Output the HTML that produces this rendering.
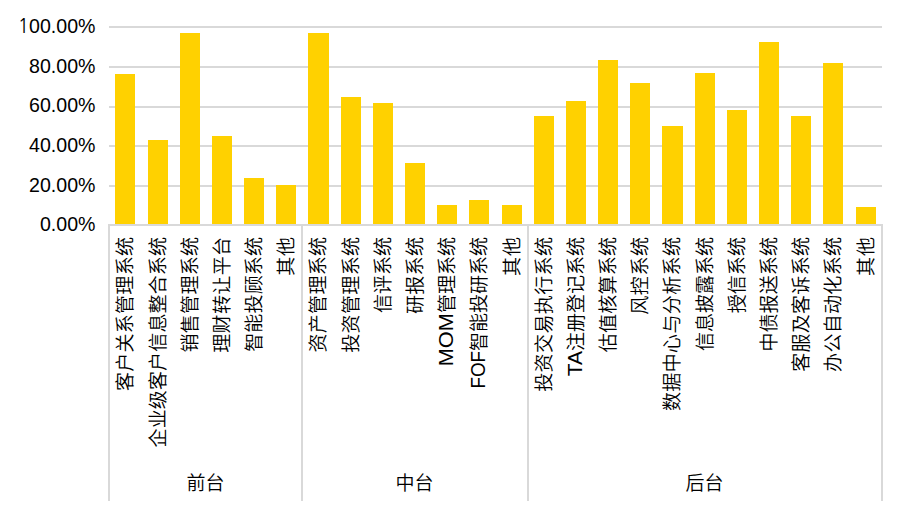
<!DOCTYPE html>
<html><head><meta charset="utf-8"><style>
html,body{margin:0;padding:0;background:#fff;}
body{width:907px;height:513px;overflow:hidden;}
svg{display:block;}
.y{font-family:"Liberation Sans",Arial,sans-serif;font-size:19.6px;fill:#000;}
.one{font-family:"NanumGothic",sans-serif;font-size:18.8px;}
.c{font-family:"Liberation Sans","Noto Sans CJK SC",sans-serif;font-size:19px;font-weight:350;fill:#000;dominant-baseline:central;}
.g{font-family:"Liberation Sans","Noto Sans CJK SC",sans-serif;font-size:19px;font-weight:350;fill:#000;}
</style></head><body>
<svg width="907" height="513" viewBox="0 0 907 513" shape-rendering="crispEdges">
<rect x="109" y="26" width="773" height="2" fill="#D9D9D9"/>
<rect x="109" y="66" width="773" height="2" fill="#D9D9D9"/>
<rect x="109" y="106" width="773" height="2" fill="#D9D9D9"/>
<rect x="109" y="145" width="773" height="2" fill="#D9D9D9"/>
<rect x="109" y="185" width="773" height="2" fill="#D9D9D9"/>
<rect x="108" y="224" width="775" height="2" fill="#D9D9D9"/>
<rect x="108" y="224" width="2" height="277" fill="#D9D9D9"/>
<rect x="301" y="224" width="2" height="277" fill="#D9D9D9"/>
<rect x="527" y="224" width="2" height="277" fill="#D9D9D9"/>
<rect x="881" y="224" width="2" height="277" fill="#D9D9D9"/>
<rect x="115" y="74" width="20" height="150" fill="#FFD100"/>
<rect x="148" y="140" width="20" height="84" fill="#FFD100"/>
<rect x="180" y="33" width="20" height="191" fill="#FFD100"/>
<rect x="212" y="136" width="20" height="88" fill="#FFD100"/>
<rect x="244" y="178" width="20" height="46" fill="#FFD100"/>
<rect x="276" y="185" width="20" height="39" fill="#FFD100"/>
<rect x="308" y="33" width="21" height="191" fill="#FFD100"/>
<rect x="341" y="97" width="20" height="127" fill="#FFD100"/>
<rect x="373" y="103" width="20" height="121" fill="#FFD100"/>
<rect x="405" y="163" width="20" height="61" fill="#FFD100"/>
<rect x="437" y="205" width="20" height="19" fill="#FFD100"/>
<rect x="469" y="200" width="20" height="24" fill="#FFD100"/>
<rect x="502" y="205" width="20" height="19" fill="#FFD100"/>
<rect x="534" y="116" width="20" height="108" fill="#FFD100"/>
<rect x="566" y="101" width="20" height="123" fill="#FFD100"/>
<rect x="598" y="60" width="20" height="164" fill="#FFD100"/>
<rect x="630" y="83" width="20" height="141" fill="#FFD100"/>
<rect x="662" y="126" width="21" height="98" fill="#FFD100"/>
<rect x="695" y="73" width="20" height="151" fill="#FFD100"/>
<rect x="727" y="110" width="20" height="114" fill="#FFD100"/>
<rect x="759" y="42" width="20" height="182" fill="#FFD100"/>
<rect x="791" y="116" width="20" height="108" fill="#FFD100"/>
<rect x="823" y="63" width="20" height="161" fill="#FFD100"/>
<rect x="856" y="207" width="20" height="17" fill="#FFD100"/>
<text class="y" x="95.5" y="33" text-anchor="end"><tspan class="one">1</tspan>00.00%</text>
<text class="y" x="95.5" y="73" text-anchor="end">80.00%</text>
<text class="y" x="95.5" y="112" text-anchor="end">60.00%</text>
<text class="y" x="95.5" y="152" text-anchor="end">40.00%</text>
<text class="y" x="95.5" y="192" text-anchor="end">20.00%</text>
<text class="y" x="95.5" y="231" text-anchor="end">0.00%</text>
<text class="c" x="125.0" y="237.0" textLength="154.1" lengthAdjust="spacing" text-anchor="end" transform="rotate(-90 125.0 237.0)">客户关系管理系统</text>
<text class="c" x="158.0" y="237.0" textLength="210.5" lengthAdjust="spacing" text-anchor="end" transform="rotate(-90 158.0 237.0)">企业级客户信息整合系统</text>
<text class="c" x="190.0" y="237.0" textLength="115.5" lengthAdjust="spacing" text-anchor="end" transform="rotate(-90 190.0 237.0)">销售管理系统</text>
<text class="c" x="222.0" y="237.0" textLength="115.7" lengthAdjust="spacing" text-anchor="end" transform="rotate(-90 222.0 237.0)">理财转让平台</text>
<text class="c" x="254.0" y="237.0" textLength="114.8" lengthAdjust="spacing" text-anchor="end" transform="rotate(-90 254.0 237.0)">智能投顾系统</text>
<text class="c" x="286.0" y="237.0" textLength="38.8" lengthAdjust="spacing" text-anchor="end" transform="rotate(-90 286.0 237.0)">其他</text>
<text class="c" x="318.5" y="237.0" textLength="115.5" lengthAdjust="spacing" text-anchor="end" transform="rotate(-90 318.5 237.0)">资产管理系统</text>
<text class="c" x="351.0" y="237.0" textLength="115.7" lengthAdjust="spacing" text-anchor="end" transform="rotate(-90 351.0 237.0)">投资管理系统</text>
<text class="c" x="383.0" y="237.0" textLength="76.0" lengthAdjust="spacing" text-anchor="end" transform="rotate(-90 383.0 237.0)">信评系统</text>
<text class="c" x="415.0" y="237.0" textLength="77.1" lengthAdjust="spacing" text-anchor="end" transform="rotate(-90 415.0 237.0)">研报系统</text>
<text class="c" x="447.0" y="237.0" text-anchor="end" transform="rotate(-90 447.0 237.0)"><tspan font-size="20" baseline-shift="1" textLength="53.3" lengthAdjust="spacingAndGlyphs">MOM</tspan>管理系统</text>
<text class="c" x="479.0" y="237.0" text-anchor="end" transform="rotate(-90 479.0 237.0)"><tspan font-size="20" baseline-shift="1" textLength="37.5" lengthAdjust="spacingAndGlyphs">FOF</tspan>智能投研系统</text>
<text class="c" x="512.0" y="237.0" textLength="38.9" lengthAdjust="spacing" text-anchor="end" transform="rotate(-90 512.0 237.0)">其他</text>
<text class="c" x="544.0" y="237.0" textLength="154.8" lengthAdjust="spacing" text-anchor="end" transform="rotate(-90 544.0 237.0)">投资交易执行系统</text>
<text class="c" x="576.0" y="237.0" text-anchor="end" transform="rotate(-90 576.0 237.0)"><tspan font-size="20" baseline-shift="1" textLength="25.3" lengthAdjust="spacingAndGlyphs">TA</tspan>注册登记系统</text>
<text class="c" x="608.0" y="237.0" textLength="115.3" lengthAdjust="spacing" text-anchor="end" transform="rotate(-90 608.0 237.0)">估值核算系统</text>
<text class="c" x="640.0" y="237.0" textLength="77.7" lengthAdjust="spacing" text-anchor="end" transform="rotate(-90 640.0 237.0)">风控系统</text>
<text class="c" x="672.5" y="237.0" textLength="174.0" lengthAdjust="spacing" text-anchor="end" transform="rotate(-90 672.5 237.0)">数据中心与分析系统</text>
<text class="c" x="705.0" y="237.0" textLength="113.9" lengthAdjust="spacing" text-anchor="end" transform="rotate(-90 705.0 237.0)">信息披露系统</text>
<text class="c" x="737.0" y="237.0" textLength="76.3" lengthAdjust="spacing" text-anchor="end" transform="rotate(-90 737.0 237.0)">授信系统</text>
<text class="c" x="769.0" y="237.0" textLength="114.6" lengthAdjust="spacing" text-anchor="end" transform="rotate(-90 769.0 237.0)">中债报送系统</text>
<text class="c" x="801.0" y="237.0" textLength="134.8" lengthAdjust="spacing" text-anchor="end" transform="rotate(-90 801.0 237.0)">客服及客诉系统</text>
<text class="c" x="833.0" y="237.0" textLength="134.9" lengthAdjust="spacing" text-anchor="end" transform="rotate(-90 833.0 237.0)">办公自动化系统</text>
<text class="c" x="866.0" y="237.0" textLength="38.9" lengthAdjust="spacing" text-anchor="end" transform="rotate(-90 866.0 237.0)">其他</text>
<text class="g" x="205.5" y="490" text-anchor="middle">前台</text>
<text class="g" x="414.5" y="490" text-anchor="middle">中台</text>
<text class="g" x="704.5" y="490" text-anchor="middle">后台</text>
</svg>
</body></html>
